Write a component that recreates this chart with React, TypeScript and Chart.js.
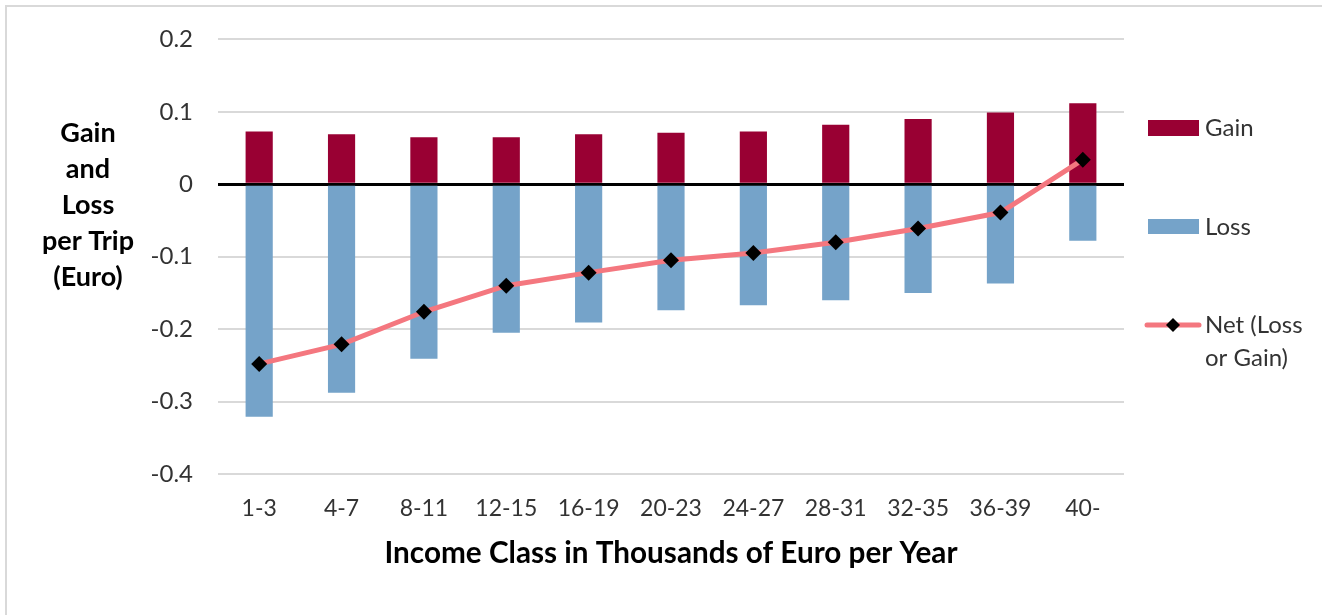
import React, { useEffect, useRef } from "react";
import { Chart, registerables } from "chart.js";

Chart.register(...registerables);

const categories = ["1-3", "4-7", "8-11", "12-15", "16-19", "20-23", "24-27", "28-31", "32-35", "36-39", "40-"];
const gainValues = [0.073, 0.069, 0.065, 0.065, 0.069, 0.071, 0.073, 0.082, 0.090, 0.099, 0.112];
const lossValues = [-0.321, -0.288, -0.241, -0.205, -0.191, -0.174, -0.167, -0.160, -0.150, -0.137, -0.078];
const netValues = [-0.248, -0.221, -0.176, -0.140, -0.122, -0.105, -0.095, -0.080, -0.061, -0.039, 0.034];
const yTickValues = [0.2, 0.1, 0, -0.1, -0.2, -0.3, -0.4];
const yTitleLines = ["Gain", "and", "Loss", "per Trip", "(Euro)"];
const xTitle = "Income Class in Thousands of Euro per Year";

const FONT = "Lato, 'Open Sans', sans-serif";
const GAIN_COLOR = "#990033";
const LOSS_COLOR = "#75a3c9";
const NET_COLOR = "#f4777f";
const TEXT_COLOR = "#333333";

const decorPlugin = {
  id: "decor",
  afterDraw(chart: any) {
    const ctx = chart.ctx as CanvasRenderingContext2D;
    ctx.save();
    // frame (top and left)
    ctx.strokeStyle = "#d9d9d9";
    ctx.lineWidth = 2;
    ctx.beginPath();
    ctx.moveTo(6, 700);
    ctx.lineTo(6, 6);
    ctx.lineTo(1400, 6);
    ctx.stroke();

    // y title
    ctx.fillStyle = "#000";
    ctx.font = `bold 27px ${FONT}`;
    ctx.textAlign = "center";
    ctx.textBaseline = "middle";
    yTitleLines.forEach((l, i) => ctx.fillText(l, 88, 133 + i * 36));

    // legend
    const ds = chart.data.datasets;
    ctx.font = `24px ${FONT}`;
    ctx.textAlign = "left";
    const lx = 1148;
    const tx = 1205;
    // Gain
    ctx.fillStyle = ds[0].backgroundColor;
    ctx.fillRect(lx, 120, 51, 16);
    ctx.fillStyle = TEXT_COLOR;
    ctx.fillText(ds[0].label, tx, 128);
    // Loss
    ctx.fillStyle = ds[1].backgroundColor;
    ctx.fillRect(lx, 219, 51, 15);
    ctx.fillStyle = TEXT_COLOR;
    ctx.fillText(ds[1].label, tx, 227);
    // Net
    ctx.strokeStyle = ds[2].borderColor;
    ctx.lineWidth = 5;
    ctx.lineCap = "round";
    ctx.beginPath();
    ctx.moveTo(1147, 325);
    ctx.lineTo(1199, 325);
    ctx.stroke();
    ctx.fillStyle = "#000";
    ctx.beginPath();
    ctx.moveTo(1173, 318);
    ctx.lineTo(1180, 325);
    ctx.lineTo(1173, 332);
    ctx.lineTo(1166, 325);
    ctx.closePath();
    ctx.fill();
    ctx.fillStyle = TEXT_COLOR;
    // wrap label
    const words = String(ds[2].label).split(" ");
    const lines: string[] = [];
    let cur = "";
    for (const w of words) {
      const test = cur ? cur + " " + w : w;
      if (ctx.measureText(test).width > 110 && cur) {
        lines.push(cur);
        cur = w;
      } else cur = test;
    }
    if (cur) lines.push(cur);
    lines.forEach((l, i) => ctx.fillText(l, tx, 325 + i * 33));
    ctx.restore();
  },
};

export default function App() {
  const ref = useRef<HTMLCanvasElement | null>(null);
  useEffect(() => {
    if (!ref.current) return;
    const chart = new Chart(ref.current, {
      type: "bar",
      data: {
        labels: categories,
        datasets: [
          {
            type: "bar",
            label: "Gain",
            data: gainValues,
            backgroundColor: GAIN_COLOR,
            grouped: false,
            categoryPercentage: 1,
            barPercentage: 0.33,
            order: 2,
          } as any,
          {
            type: "bar",
            label: "Loss",
            data: lossValues,
            backgroundColor: LOSS_COLOR,
            grouped: false,
            categoryPercentage: 1,
            barPercentage: 0.33,
            order: 2,
          } as any,
          {
            type: "line",
            label: "Net (Loss or Gain)",
            data: netValues,
            borderColor: NET_COLOR,
            borderWidth: 5,
            pointStyle: "rectRot",
            pointRadius: 8,
            pointBackgroundColor: "#000",
            pointBorderColor: "#000",
            pointBorderWidth: 0,
            tension: 0,
            order: 1,
          } as any,
        ],
      },
      options: {
        animation: false,
        responsive: false,
        layout: { padding: { left: 0, right: 198, top: 23, bottom: 0 } },
        plugins: { legend: { display: false }, tooltip: { enabled: false } },
        scales: {
          x: {
            grid: { display: false, drawTicks: false },
            border: { display: false },
            ticks: { font: { family: FONT, size: 23 }, color: TEXT_COLOR, padding: 21 },
            title: {
              display: true,
              text: xTitle,
              font: { family: FONT, size: 29.7, weight: "bold" },
              color: "#000",
              padding: { top: 4, bottom: 44 },
            },
            afterFit(scale: any) {
              scale.height = 141;
            },
          },
          y: {
            min: -0.4,
            max: 0.2,
            afterBuildTicks(scale: any) {
              scale.ticks = yTickValues.map((v) => ({ value: v }));
            },
            ticks: {
              font: { family: FONT, size: 24 },
              color: TEXT_COLOR,
              padding: 25,
              callback: (v: any) => String(Math.round(Number(v) * 10) / 10),
            },
            grid: {
              drawTicks: false,
              color: (c: any) => (c.tick && Math.abs(c.tick.value) < 1e-9 ? "#000" : "#d9d9d9"),
              lineWidth: (c: any) => (c.tick && Math.abs(c.tick.value) < 1e-9 ? 3 : 2),
            },
            border: { display: false },
            afterFit(scale: any) {
              scale.width = 218;
            },
          },
        },
      },
      plugins: [decorPlugin],
    });
    return () => chart.destroy();
  }, []);
  return (
    <div style={{ position: "absolute", left: 0, top: 0, width: 1322, height: 615, background: "#fff" }}>
      <canvas ref={ref} width={1322} height={615} style={{ display: "block" }} />
    </div>
  );
}
